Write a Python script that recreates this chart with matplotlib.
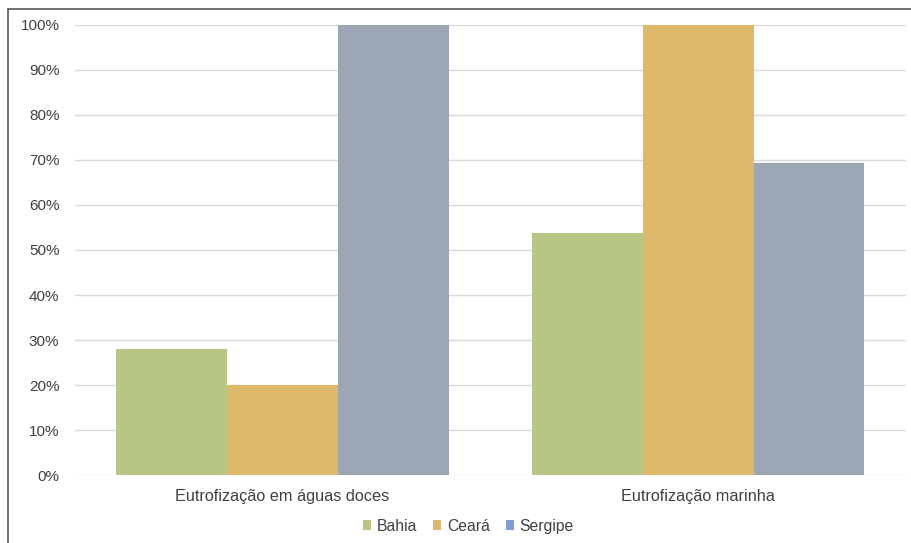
import matplotlib
matplotlib.use("Agg")
import matplotlib.pyplot as plt
from matplotlib.patches import Rectangle, Patch
import numpy as np

plt.rcParams['font.family'] = ['Liberation Sans', 'DejaVu Sans']

categories = ["Eutrofização em águas doces", "Eutrofização marinha"]
series_names = ["Bahia", "Ceará", "Sergipe"]
bahia = [0.281, 0.537]
ceara = [0.199, 1.0]
sergipe = [1.0, 0.694]
y_ticks = [0, 0.1, 0.2, 0.3, 0.4, 0.5, 0.6, 0.7, 0.8, 0.9, 1.0]
y_tick_labels = ["0%", "10%", "20%", "30%", "40%", "50%", "60%", "70%", "80%", "90%", "100%"]

bar_colors = ["#b6c684", "#dfb96a", "#9ba7b5"]
legend_colors = ["#b6c684", "#dfb96a", "#7f9fd8"]

fig = plt.figure(figsize=(9.11, 5.43), dpi=100)
ax = fig.add_axes([0.082, 0.1252, 0.9125, 0.8288])

x = np.arange(len(categories))
width = 0.8 / 3
for i, vals in enumerate([bahia, ceara, sergipe]):
    ax.bar(x + (i - 1) * width, vals, width=width, color=bar_colors[i],
           linewidth=0, zorder=3)

ax.set_xlim(-0.5, 1.5)
ax.set_ylim(0, 1.0)
ax.set_yticks(y_ticks)
ax.set_yticklabels(y_tick_labels)
ax.set_xticks(x)
ax.set_xticklabels(categories)
ax.yaxis.grid(True, color="#d9d9d9", linewidth=1.0, zorder=0)
ax.set_axisbelow(True)
for s in ax.spines.values():
    s.set_visible(False)
ax.tick_params(axis="y", length=0, pad=11, labelsize=11, labelcolor="#404040")
ax.tick_params(axis="x", length=0, pad=10, labelsize=11.7, labelcolor="#404040")

handles = [Patch(facecolor=c, edgecolor="none") for c in legend_colors]
fig.legend(handles, series_names, loc="center", bbox_to_anchor=(0.514, 0.031),
           ncol=3, frameon=False, fontsize=11.3, handlelength=0.55,
           handleheight=0.55, handletextpad=0.35, columnspacing=1.0,
           labelcolor="#404040")

# outer frame around the chart
fig.patches.append(Rectangle((8 / 911, -0.05), 1.0, 1.05 - 9 / 543,
                             transform=fig.transFigure, fill=False,
                             edgecolor="#555555", linewidth=1.2))

fig.savefig("out.png", dpi=100, facecolor="white")
